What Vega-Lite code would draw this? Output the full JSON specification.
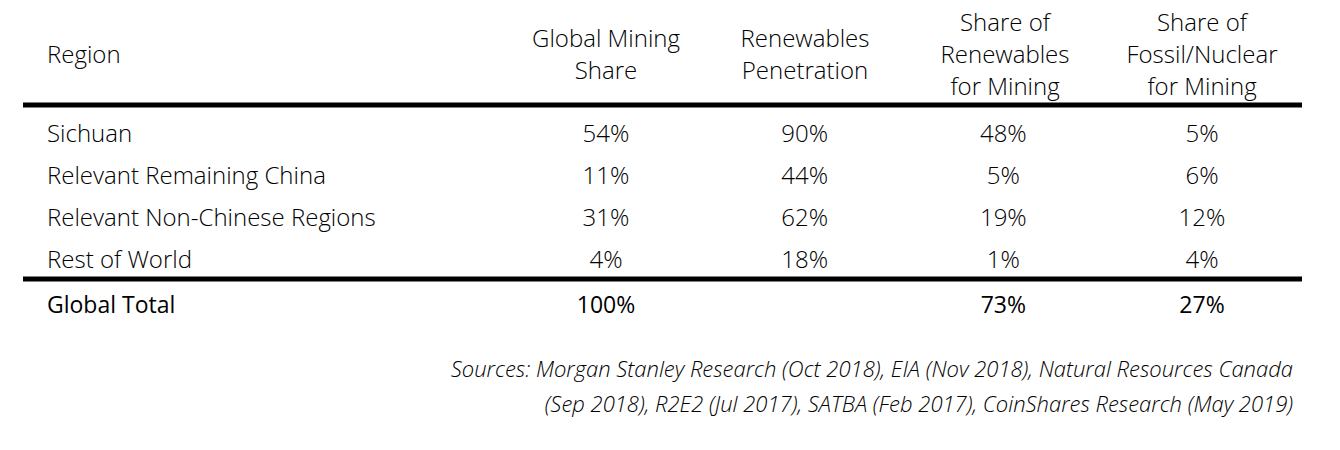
{
  "$schema": "https://vega.github.io/schema/vega-lite/v6.json",
  "width": 1279,
  "height": 450,
  "autosize": {"type": "none"},
  "padding": {"left": 23, "right": 38, "top": 0, "bottom": 0},
  "config": {"view": {"stroke": null}, "font": "Open Sans"},
  "datasets": {
    "cells": [
      {"row": "header", "col": "Region", "text": "Region"},
      {"row": "header", "col": "Global Mining Share", "text": "Global Mining\nShare"},
      {"row": "header", "col": "Renewables Penetration", "text": "Renewables\nPenetration"},
      {"row": "header", "col": "Share of Renewables for Mining", "text": "Share of\nRenewables\nfor Mining"},
      {"row": "header", "col": "Share of Fossil/Nuclear for Mining", "text": "Share of\nFossil/Nuclear\nfor Mining"},
      {"row": "Sichuan", "col": "Region", "text": "Sichuan"},
      {"row": "Sichuan", "col": "Global Mining Share", "text": "54%"},
      {"row": "Sichuan", "col": "Renewables Penetration", "text": "90%"},
      {"row": "Sichuan", "col": "Share of Renewables for Mining", "text": "48%"},
      {"row": "Sichuan", "col": "Share of Fossil/Nuclear for Mining", "text": "5%"},
      {"row": "Relevant Remaining China", "col": "Region", "text": "Relevant Remaining China"},
      {"row": "Relevant Remaining China", "col": "Global Mining Share", "text": "11%"},
      {"row": "Relevant Remaining China", "col": "Renewables Penetration", "text": "44%"},
      {"row": "Relevant Remaining China", "col": "Share of Renewables for Mining", "text": "5%"},
      {"row": "Relevant Remaining China", "col": "Share of Fossil/Nuclear for Mining", "text": "6%"},
      {"row": "Relevant Non-Chinese Regions", "col": "Region", "text": "Relevant Non-Chinese Regions"},
      {"row": "Relevant Non-Chinese Regions", "col": "Global Mining Share", "text": "31%"},
      {"row": "Relevant Non-Chinese Regions", "col": "Renewables Penetration", "text": "62%"},
      {"row": "Relevant Non-Chinese Regions", "col": "Share of Renewables for Mining", "text": "19%"},
      {"row": "Relevant Non-Chinese Regions", "col": "Share of Fossil/Nuclear for Mining", "text": "12%"},
      {"row": "Rest of World", "col": "Region", "text": "Rest of World"},
      {"row": "Rest of World", "col": "Global Mining Share", "text": "4%"},
      {"row": "Rest of World", "col": "Renewables Penetration", "text": "18%"},
      {"row": "Rest of World", "col": "Share of Renewables for Mining", "text": "1%"},
      {"row": "Rest of World", "col": "Share of Fossil/Nuclear for Mining", "text": "4%"},
      {"row": "total", "col": "Region", "text": "Global Total"},
      {"row": "total", "col": "Global Mining Share", "text": "100%"},
      {"row": "total", "col": "Share of Renewables for Mining", "text": "73%"},
      {"row": "total", "col": "Share of Fossil/Nuclear for Mining", "text": "27%"}
    ],
    "rules": [{"row": "sep1"}, {"row": "sep2"}],
    "notes": [
      {"row": "sources", "col": "sources", "text": "Sources: Morgan Stanley Research (Oct 2018), EIA (Nov 2018), Natural Resources Canada\n(Sep 2018), R2E2 (Jul 2017), SATBA (Feb 2017), CoinShares Research (May 2019)"}
    ]
  },
  "resolve": {"scale": {"x": "independent", "y": "independent"}},
  "layer": [
    {
      "data": {"name": "rules"},
      "mark": {"type": "rule", "strokeWidth": 5, "color": "#000000"},
      "encoding": {
        "y": {"field": "row", "type": "nominal", "axis": null, "scale": {"type": "point", "domain": ["sep1", "sep2"], "range": [105, 279], "padding": 0}}
      }
    },
    {
      "data": {"name": "cells"},
      "transform": [{"filter": "datum.row == 'header' && datum.col == 'Region'"}],
      "mark": {"type": "text", "align": "left", "baseline": "middle", "fontSize": 24, "fontWeight": 300, "color": "#000000"},
      "encoding": {
        "x": {"field": "col", "type": "nominal", "axis": null, "scale": {"type": "point", "domain": ["Region"], "range": [24, 24], "padding": 0}},
        "y": {"field": "row", "type": "nominal", "axis": null, "scale": {"type": "point", "domain": ["header"], "range": [56, 56], "padding": 0}},
        "text": {"field": "text"}
      }
    },
    {
      "data": {"name": "cells"},
      "transform": [{"filter": "datum.row == 'header' && (datum.col == 'Global Mining Share' || datum.col == 'Renewables Penetration')"}],
      "mark": {"type": "text", "align": "center", "baseline": "middle", "fontSize": 24, "fontWeight": 300, "color": "#000000", "lineBreak": "\n", "lineHeight": 32},
      "encoding": {
        "x": {"field": "col", "type": "nominal", "axis": null, "scale": {"type": "point", "domain": ["Global Mining Share", "Renewables Penetration"], "range": [583, 782], "padding": 0}},
        "y": {"field": "row", "type": "nominal", "axis": null, "scale": {"type": "point", "domain": ["header"], "range": [40, 40], "padding": 0}},
        "text": {"field": "text"}
      }
    },
    {
      "data": {"name": "cells"},
      "transform": [{"filter": "datum.row == 'header' && (datum.col == 'Share of Renewables for Mining' || datum.col == 'Share of Fossil/Nuclear for Mining')"}],
      "mark": {"type": "text", "align": "center", "baseline": "middle", "fontSize": 24, "fontWeight": 300, "color": "#000000", "lineBreak": "\n", "lineHeight": 32},
      "encoding": {
        "x": {"field": "col", "type": "nominal", "axis": null, "scale": {"type": "point", "domain": ["Share of Renewables for Mining", "Share of Fossil/Nuclear for Mining"], "range": [982, 1179], "padding": 0}},
        "y": {"field": "row", "type": "nominal", "axis": null, "scale": {"type": "point", "domain": ["header"], "range": [24, 24], "padding": 0}},
        "text": {"field": "text"}
      }
    },
    {
      "data": {"name": "cells"},
      "transform": [{"filter": "datum.row != 'header' && datum.row != 'total' && datum.col == 'Region'"}],
      "mark": {"type": "text", "align": "left", "baseline": "middle", "fontSize": 24, "fontWeight": 300, "color": "#000000"},
      "encoding": {
        "x": {"field": "col", "type": "nominal", "axis": null, "scale": {"type": "point", "domain": ["Region"], "range": [24, 24], "padding": 0}},
        "y": {"field": "row", "type": "nominal", "axis": null, "scale": {"type": "point", "domain": ["Sichuan", "Relevant Remaining China", "Relevant Non-Chinese Regions", "Rest of World"], "range": [135, 261], "padding": 0}},
        "text": {"field": "text"}
      }
    },
    {
      "data": {"name": "cells"},
      "transform": [{"filter": "datum.row != 'header' && datum.row != 'total' && datum.col != 'Region'"}],
      "mark": {"type": "text", "align": "center", "baseline": "middle", "fontSize": 24, "fontWeight": 300, "color": "#000000"},
      "encoding": {
        "x": {"field": "col", "type": "nominal", "axis": null, "scale": {"type": "point", "domain": ["Global Mining Share", "Renewables Penetration", "Share of Renewables for Mining", "Share of Fossil/Nuclear for Mining"], "range": [583, 1179], "padding": 0}},
        "y": {"field": "row", "type": "nominal", "axis": null, "scale": {"type": "point", "domain": ["Sichuan", "Relevant Remaining China", "Relevant Non-Chinese Regions", "Rest of World"], "range": [135, 261], "padding": 0}},
        "text": {"field": "text"}
      }
    },
    {
      "data": {"name": "cells"},
      "transform": [{"filter": "datum.row == 'total' && datum.col == 'Region'"}],
      "mark": {"type": "text", "align": "left", "baseline": "middle", "fontSize": 23, "fontWeight": 500, "color": "#000000"},
      "encoding": {
        "x": {"field": "col", "type": "nominal", "axis": null, "scale": {"type": "point", "domain": ["Region"], "range": [24, 24], "padding": 0}},
        "y": {"field": "row", "type": "nominal", "axis": null, "scale": {"type": "point", "domain": ["total"], "range": [306, 306], "padding": 0}},
        "text": {"field": "text"}
      }
    },
    {
      "data": {"name": "cells"},
      "transform": [{"filter": "datum.row == 'total' && datum.col != 'Region'"}],
      "mark": {"type": "text", "align": "center", "baseline": "middle", "fontSize": 23, "fontWeight": 500, "color": "#000000"},
      "encoding": {
        "x": {"field": "col", "type": "nominal", "axis": null, "scale": {"type": "point", "domain": ["Global Mining Share", "Renewables Penetration", "Share of Renewables for Mining", "Share of Fossil/Nuclear for Mining"], "range": [583, 1179], "padding": 0}},
        "y": {"field": "row", "type": "nominal", "axis": null, "scale": {"type": "point", "domain": ["total"], "range": [306, 306], "padding": 0}},
        "text": {"field": "text"}
      }
    },
    {
      "data": {"name": "notes"},
      "mark": {"type": "text", "align": "right", "baseline": "middle", "fontSize": 22, "fontStyle": "italic", "fontWeight": 300, "color": "#000000", "lineBreak": "\n", "lineHeight": 35},
      "encoding": {
        "x": {"field": "col", "type": "nominal", "axis": null, "scale": {"type": "point", "domain": ["sources"], "range": [1270, 1270], "padding": 0}},
        "y": {"field": "row", "type": "nominal", "axis": null, "scale": {"type": "point", "domain": ["sources"], "range": [370, 370], "padding": 0}},
        "text": {"field": "text"}
      }
    }
  ]
}
